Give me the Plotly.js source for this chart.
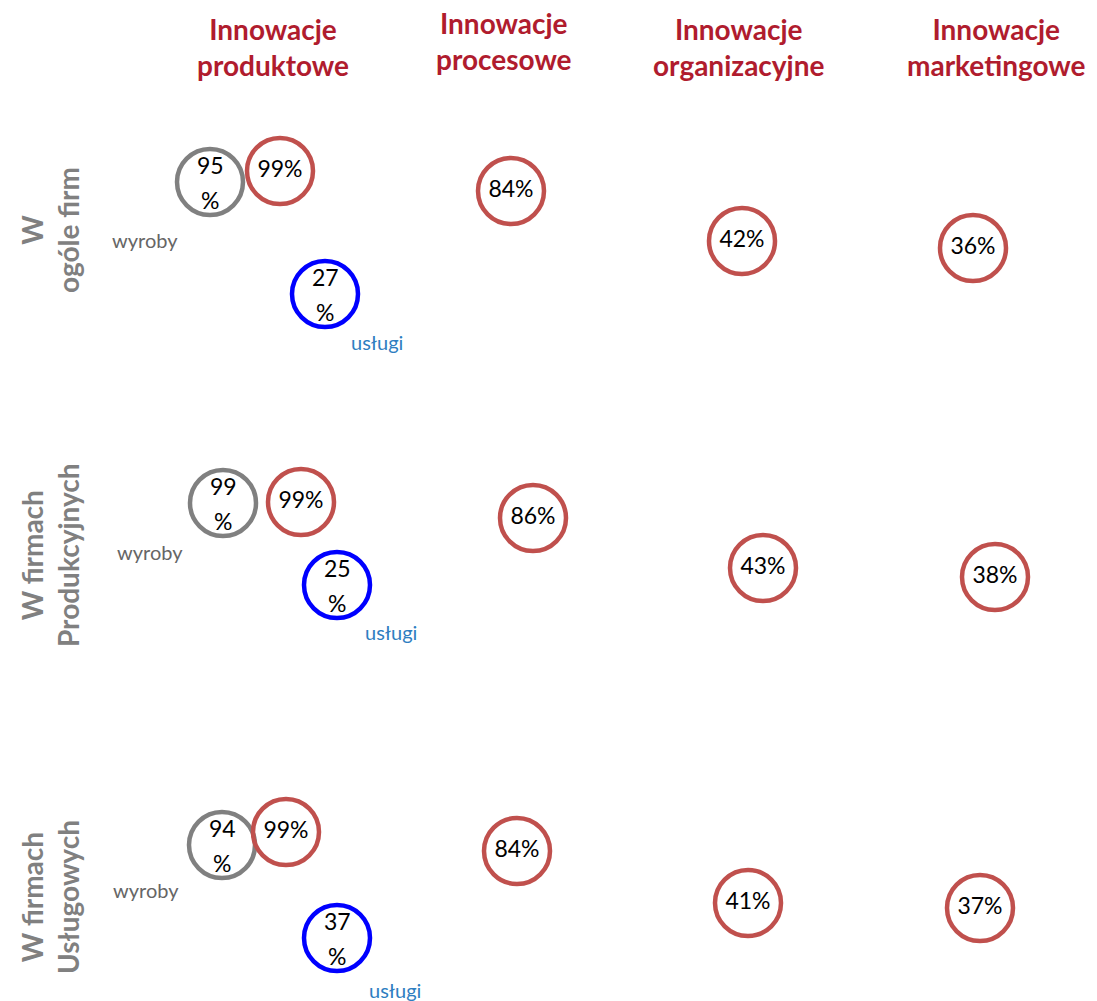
<!DOCTYPE html>
<html>
<head>
<meta charset="utf-8">
<script src="https://cdn.plot.ly/plotly-3.0.1.min.js"></script>
<style>
  html, body { margin: 0; padding: 0; background: #fff; }
  #plot { width: 1097px; height: 1001px; }
</style>
</head>
<body>
<div id="plot"></div>
<script>
// Nagłówki kolumn i wierszy
var columns = ['Innowacje<br>produktowe', 'Innowacje<br>procesowe', 'Innowacje<br>organizacyjne', 'Innowacje<br>marketingowe'];
var rows = ['W<br>ogóle firm', 'W firmach<br>Produkcyjnych', 'W firmach<br>Usługowych'];

// Wartości (%) dla każdego wiersza
var productTotal = [99, 99, 99];      // innowacje produktowe ogółem
var productGoods = [95, 99, 94];      // wyroby
var productServices = [27, 25, 37];   // usługi
var processValues = [84, 86, 84];
var orgValues = [42, 43, 41];
var marketingValues = [36, 38, 37];

// Położenie środków kółek (w pikselach strony)
var goodsPos = { x: [210, 223, 222], y: [182, 503, 845] };
var totalPos = { x: [280, 301, 286], y: [171, 502, 832] };
var servPos = { x: [325, 337, 337], y: [294, 585, 938] };
var procPos = { x: [511, 533, 517], y: [191, 518, 851] };
var orgPos = { x: [742, 763, 748], y: [241, 568, 903] };
var mktPos = { x: [973, 995, 980], y: [248, 577, 908] };
var goodsLabelPos = { x: [145, 150, 146], y: [240, 552, 890] };
var servLabelPos = { x: [377, 391, 395], y: [342, 632, 990] };
var colPos = { x: [273, 504, 739, 996], y: [47, 41, 47, 47] };
var rowPos = { x: [50, 50, 50], y: [230, 555, 897] };

var RED = '#C0504D', GRAY = '#808080', BLUE = '#0000FF';
var FONT = 'Lato, "Open Sans", sans-serif';
var VAL_FONT = { family: FONT, size: 23, color: '#000' };

function circles(pos, values, color, withText) {
    return {
        x: pos.x,
        y: pos.y,
        type: 'scatter',
        mode: withText ? 'markers+text' : 'markers',
        text: values.map(function (v) { return v + '%'; }),
        textposition: 'middle center',
        textfont: VAL_FONT,
        marker: { size: 66, color: 'rgba(255,255,255,0)', line: { color: color, width: 4.5 } },
        hoverinfo: 'skip',
        showlegend: false
    };
}

var data = [
    circles(goodsPos, productGoods, GRAY, false),
    circles(totalPos, productTotal, RED, true),
    circles(servPos, productServices, BLUE, false),
    circles(procPos, processValues, RED, true),
    circles(orgPos, orgValues, RED, true),
    circles(mktPos, marketingValues, RED, true)
];

var annotations = [];
columns.forEach(function (c, i) {
    annotations.push({
        x: colPos.x[i], y: colPos.y[i], xref: 'x', yref: 'y', text: '<b>' + c + '</b>',
        showarrow: false, align: 'center',
        font: { family: FONT, size: 28, color: '#B01C2E' }
    });
});
rows.forEach(function (r, i) {
    annotations.push({
        x: rowPos.x[i], y: rowPos.y[i], xref: 'x', yref: 'y', text: '<b>' + r + '</b>',
        showarrow: false, align: 'center', textangle: -90,
        font: { family: FONT, size: 28, color: GRAY }
    });
});

// wartości w dwóch liniach (liczba nad znakiem %)
function splitValue(pos, values) {
    values.forEach(function (v, i) {
        annotations.push({ x: pos.x[i], y: pos.y[i], xref: 'x', yref: 'y', text: String(v),
            showarrow: false, yshift: 17, font: VAL_FONT });
        annotations.push({ x: pos.x[i], y: pos.y[i], xref: 'x', yref: 'y', text: '%',
            showarrow: false, yshift: -18, font: VAL_FONT });
    });
}
splitValue(goodsPos, productGoods);
splitValue(servPos, productServices);

for (var i = 0; i < rows.length; i++) {
    annotations.push({
        x: goodsLabelPos.x[i], y: goodsLabelPos.y[i], xref: 'x', yref: 'y', text: 'wyroby',
        showarrow: false, font: { family: FONT, size: 20, color: '#666666' }
    });
    annotations.push({
        x: servLabelPos.x[i], y: servLabelPos.y[i], xref: 'x', yref: 'y', text: 'usługi',
        showarrow: false, font: { family: FONT, size: 20, color: '#2E7EC1' }
    });
}

var layout = {
    width: 1097,
    height: 1001,
    margin: { l: 0, r: 0, t: 0, b: 0 },
    paper_bgcolor: '#fff',
    plot_bgcolor: '#fff',
    xaxis: { range: [0, 1097], visible: false, fixedrange: true },
    yaxis: { range: [1001, 0], visible: false, fixedrange: true },
    annotations: annotations
};

Plotly.newPlot('plot', data, layout, { displayModeBar: false, staticPlot: true });
</script>
</body>
</html>
